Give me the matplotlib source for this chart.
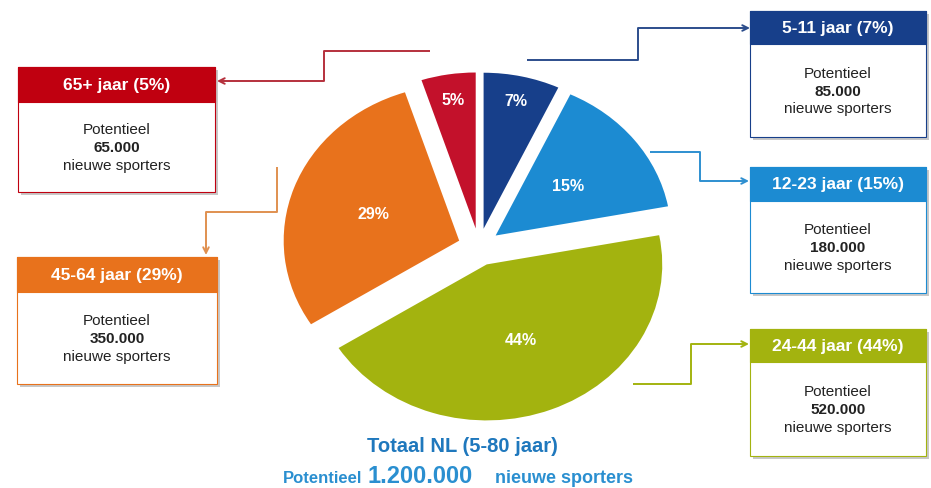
import numpy as np
import matplotlib.pyplot as plt
from matplotlib.patches import Rectangle

plt.rcParams['font.family'] = ['Liberation Sans', 'DejaVu Sans']

# data (clockwise from the top)
groups = ['5-11 jaar', '12-23 jaar', '24-44 jaar', '45-64 jaar', '65+ jaar']
shares = [7, 15, 44, 29, 5]
potentials = ['85.000', '180.000', '520.000', '350.000', '65.000']
colors = ['#173f8a', '#1c8bd2', '#a3b30f', '#e8721c', '#c3112b']
total_title = 'Totaal NL (5-80 jaar)'
total_value = '1.200.000'

W, H = 931, 489
fig = plt.figure(figsize=(W / 100, H / 100), dpi=100)
ax = fig.add_axes([0, 0, 1, 1])
ax.set_xlim(0, W)
ax.set_ylim(H, 0)
ax.axis('off')

#
# Pie (slightly squashed ellipse, own axes)
#
cx, cy, rx, ry = 479, 248, 175.5, 156
lim = 1.3
pax = fig.add_axes([(cx - lim * rx) / W, (H - cy - lim * ry) / H,
                    2 * lim * rx / W, 2 * lim * ry / H])
wedges, _ = pax.pie(shares, colors=colors, startangle=90, counterclock=False,
                    explode=[0.12] * len(shares), radius=1,
                    wedgeprops=dict(linewidth=0))
pax.set_aspect('auto')
pax.set_xlim(-lim, lim)
pax.set_ylim(-lim, lim)
pax.axis('off')

label_dist = [0.84, 0.52, 0.52, 0.52, 0.84]
for w, s, d in zip(wedges, shares, label_dist):
    ang = np.deg2rad((w.theta1 + w.theta2) / 2)
    x0, y0 = w.center
    pax.text(x0 + d * np.cos(ang), y0 + d * np.sin(ang), f'{s}%',
             ha='center', va='center', color='white', fontsize=11.5,
             fontweight='bold')

#
# Boxes
#
box_pos = {  # left, top, right, header bottom, bottom (pixels)
    '5-11 jaar': (750, 12, 926, 45, 138),
    '12-23 jaar': (750, 168, 926, 202, 294),
    '24-44 jaar': (750, 330, 926, 363, 457),
    '45-64 jaar': (17, 258, 217, 293, 385),
    '65+ jaar': (18, 68, 215, 103, 193),
}
header_colors = ['#173f8a', '#1c8bd2', '#a3b30f', '#e8721c', '#c00010']

for g, s, p, c in zip(groups, shares, potentials, header_colors):
    l, t, r, hb, b = box_pos[g]
    ax.add_patch(Rectangle((l + 3, t + 3), r - l, b - t, facecolor='#c8c8c8',
                           edgecolor='none', zorder=1))
    ax.add_patch(Rectangle((l, t), r - l, b - t, facecolor='white',
                           edgecolor=c, linewidth=0.8, zorder=2))
    ax.add_patch(Rectangle((l, t), r - l, hb - t, facecolor=c,
                           edgecolor=c, linewidth=0.8, zorder=3))
    xm = (l + r) / 2
    ax.text(xm, (t + hb) / 2, f'{g} ({s}%)', ha='center', va='center',
            color='white', fontsize=12.5, fontweight='bold', zorder=4)
    mid = (hb + b) / 2
    ax.text(xm, mid - 18, 'Potentieel', ha='center', va='center',
            fontsize=11, color='#222222', zorder=4)
    ax.text(xm, mid, p, ha='center', va='center', fontsize=11,
            fontweight='bold', color='#222222', zorder=4)
    ax.text(xm, mid + 18, 'nieuwe sporters', ha='center', va='center',
            fontsize=11, color='#222222', zorder=4)

#
# Connectors
#
connectors = [
    ([527, 638, 638], [61, 61, 29], (750, 29), '#2c4d8c'),
    ([650, 700, 700], [153, 153, 182], (749, 182), '#2e8fd0'),
    ([633, 691, 691], [385, 385, 345], (749, 345), '#a3b30f'),
    ([277, 277, 206], [168, 213, 213], (206, 256), '#e09050'),
    ([430, 324, 324], [52, 52, 82], (217, 82), '#b5303c'),
]
for xs, ys, end, c in connectors:
    ax.plot(xs, ys, color=c, linewidth=1.4, solid_capstyle='butt')
    ax.annotate('', xy=end, xytext=(xs[-1], ys[-1]),
                arrowprops=dict(arrowstyle='->', color=c, lw=1.4,
                                shrinkA=0, shrinkB=0, mutation_scale=10))

#
# Totals
#
ax.text(462, 446, total_title, ha='center', va='center', fontsize=14.5,
        fontweight='bold', color='#1f78bd')

renderer = fig.canvas.get_renderer()
x = 283
base = 483
pieces = [('Potentieel', 12, 5), (total_value, 17, 22), ('nieuwe sporters', 13, 0)]
for txt, size, gap in pieces:
    t = ax.text(x, base, txt, ha='left', va='baseline', fontsize=size,
                fontweight='bold', color='#2a8fd0')
    x += t.get_window_extent(renderer).width + gap

fig.savefig('out.png', dpi=100)
